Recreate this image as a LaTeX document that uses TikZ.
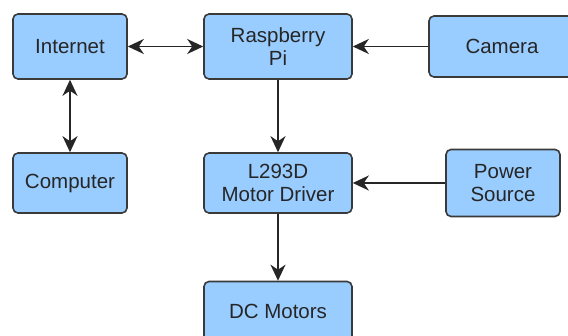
\documentclass[tikz,border=0pt]{standalone}
\usepackage{fontspec}
\setmainfont{Liberation Sans}
\usetikzlibrary{arrows.meta}
\usepackage{xcolor}
\definecolor{boxblue}{HTML}{99CCFF}
\definecolor{boxline}{HTML}{3A3A3A}

\begin{document}
\begin{tikzpicture}[>={Stealth[length=16pt, width=15pt, inset=5pt]}, x=1pt, y=-1pt,
  blk/.style={rectangle, rounded corners=5pt, draw=boxline, line width=1.6pt, fill=boxblue, align=center, inner sep=0pt, font=\fontsize{20.5}{23}\selectfont, text=black!85},
  wide/.style={blk, minimum width=148pt, minimum height=60pt},
  narrow/.style={blk, minimum width=114pt, minimum height=60pt},
  edge/.style={->, line width=1.5pt, draw=black!85}
]
\useasboundingbox (0,0) rectangle (568,336);
\clip (0,0) rectangle (568,336);
\node[narrow, minimum height=65pt] (inet) at (70,46.5) {Internet};
\node[wide, minimum height=65pt] (rpi) at (278,46.5) {Raspberry\\Pi};
\node[wide, minimum width=146pt, minimum height=61pt] (cam) at (502,46.5) {Camera};
\node[narrow] (comp) at (70,183) {Computer};
\node[wide] (drv) at (278,183) {L293D\\Motor Driver};
\node[narrow, minimum height=67pt] (pwr) at (503,183) {Power\\Source};
\node[wide] (motor) at (278,311.5) {DC Motors};
\draw[edge, <->] (inet) -- (rpi);
\draw[edge] (cam) -- (rpi);
\draw[edge, <->] (inet) -- (comp);
\draw[edge] (rpi) -- (drv);
\draw[edge] (pwr) -- (drv);
\draw[edge] (drv) -- (motor);
\end{tikzpicture}
\end{document}
